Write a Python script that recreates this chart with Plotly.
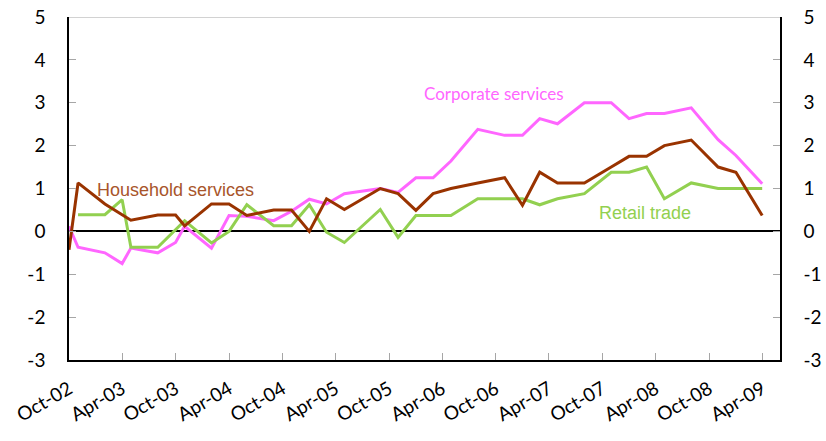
import plotly.graph_objects as go

dates = ["2002-10-01", "2002-11-01", "2003-02-01", "2003-04-01", "2003-05-01", "2003-08-01",
         "2003-10-01", "2003-11-01", "2004-02-01", "2004-04-01", "2004-06-01", "2004-09-01",
         "2004-11-01", "2005-01-01", "2005-03-01", "2005-05-01", "2005-09-01", "2005-11-01",
         "2006-01-01", "2006-03-01", "2006-05-01", "2006-08-01", "2006-11-01", "2007-01-01",
         "2007-03-01", "2007-05-01", "2007-08-01", "2007-11-01", "2008-01-01", "2008-03-01",
         "2008-05-01", "2008-08-01", "2008-11-01", "2009-01-01", "2009-04-01"]

corporate = [0.12, -0.37, -0.5, -0.75, -0.39, -0.5, -0.26, 0.12, -0.39, 0.37, 0.35, 0.25,
             0.47, 0.75, 0.64, 0.88, 1.0, 0.91, 1.25, 1.25, 1.64, 2.38, 2.24, 2.24,
             2.63, 2.51, 3.0, 3.0, 2.63, 2.75, 2.75, 2.88, 2.14, 1.77, 1.11]

retail = [None, 0.39, 0.39, 0.74, -0.37, -0.37, 0.04, 0.25, -0.27, 0.0, 0.62, 0.13,
          0.13, 0.62, -0.02, -0.26, 0.51, -0.14, 0.37, 0.37, 0.37, 0.76, 0.76, 0.76,
          0.62, 0.76, 0.88, 1.38, 1.38, 1.5, 0.76, 1.13, 1.0, 1.0, 1.0]

household = [-0.43, 1.13, 0.64, 0.39, 0.26, 0.38, 0.38, 0.13, 0.64, 0.64, 0.37, 0.5,
             0.5, 0.0, 0.76, 0.51, 1.0, 0.88, 0.49, 0.88, 1.0, 1.13, 1.25, 0.61,
             1.38, 1.13, 1.13, 1.5, 1.75, 1.75, 2.0, 2.13, 1.5, 1.38, 0.37]

tick_dates = ["2002-10-01", "2003-04-01", "2003-10-01", "2004-04-01", "2004-10-01",
              "2005-04-01", "2005-10-01", "2006-04-01", "2006-10-01", "2007-04-01",
              "2007-10-01", "2008-04-01", "2008-10-01", "2009-04-01"]
tick_labels = ["Oct-02", "Apr-03", "Oct-03", "Apr-04", "Oct-04", "Apr-05", "Oct-05",
               "Apr-06", "Oct-06", "Apr-07", "Oct-07", "Apr-08", "Oct-08", "Apr-09"]

y_ticks = [-3, -2, -1, 0, 1, 2, 3, 4, 5]
y_labels = ["-3", "-2", "-1", "0", "1", "2", "3", "4", "5"]

PINK = "#FF66FF"
GREEN = "#92D050"
BROWN = "#993300"
TICKFONT = dict(family="Lato", size=19, color="#000000")

fig = go.Figure()
fig.add_trace(go.Scatter(x=dates, y=corporate, mode="lines", line=dict(color=PINK, width=3),
                         name="Corporate services"))
fig.add_trace(go.Scatter(x=dates, y=retail, mode="lines", line=dict(color=GREEN, width=3),
                         name="Retail trade"))
fig.add_trace(go.Scatter(x=dates, y=household, mode="lines", line=dict(color=BROWN, width=3),
                         name="Household services"))
fig.add_trace(go.Scatter(x=[dates[0]], y=[None], yaxis="y2", mode="lines",
                         showlegend=False, hoverinfo="skip"))

yax_common = dict(
    range=[-3, 5], tickmode="array", tickvals=y_ticks, ticktext=y_labels, tickfont=TICKFONT,
    ticks="inside", ticklen=7, tickcolor="#A6A6A6", tickwidth=1,
    showline=True, linecolor="black", linewidth=1.5,
    showgrid=False, automargin=False, ticklabelstandoff=18,
)

fig.update_layout(
    width=826, height=441,
    margin=dict(l=69, r=46, t=17, b=81),
    paper_bgcolor="white", plot_bgcolor="white",
    showlegend=False,
    xaxis=dict(
        type="date", range=["2002-10-01", "2009-06-01"],
        tickmode="array", tickvals=tick_dates, ticktext=tick_labels,
        tickangle=-30, tickfont=TICKFONT,
        ticks="inside", ticklen=7, tickcolor="#A6A6A6", tickwidth=1,
        showline=True, linecolor="black", linewidth=1.5,
        showgrid=False, zeroline=False, automargin=False, ticklabelstandoff=9,
    ),
    yaxis=dict(**yax_common, zeroline=True, zerolinecolor="black", zerolinewidth=1.5),
    yaxis2=dict(**yax_common, overlaying="y", side="right", zeroline=False),
    shapes=[dict(type="line", xref="paper", yref="y", x0=0, x1=1, y0=5, y1=5,
                 line=dict(color="#A6A6A6", width=1))],
    annotations=[
        dict(x="2006-09-24", y=3.21, xref="x", yref="y", text="Corporate services",
             showarrow=False, font=dict(family="Lato", size=17, color=PINK)),
        dict(x="2003-10-01", y=0.97, xref="x", yref="y", text="Household services",
             showarrow=False, font=dict(family="Liberation Sans", size=18, color="#A8552B")),
        dict(x="2008-02-25", y=0.44, xref="x", yref="y", text="Retail trade",
             showarrow=False, font=dict(family="Liberation Sans", size=18, color=GREEN)),
    ],
)

fig.write_html("out.html", config={"displayModeBar": False},
               post_script="document.body.style.margin='0';")
